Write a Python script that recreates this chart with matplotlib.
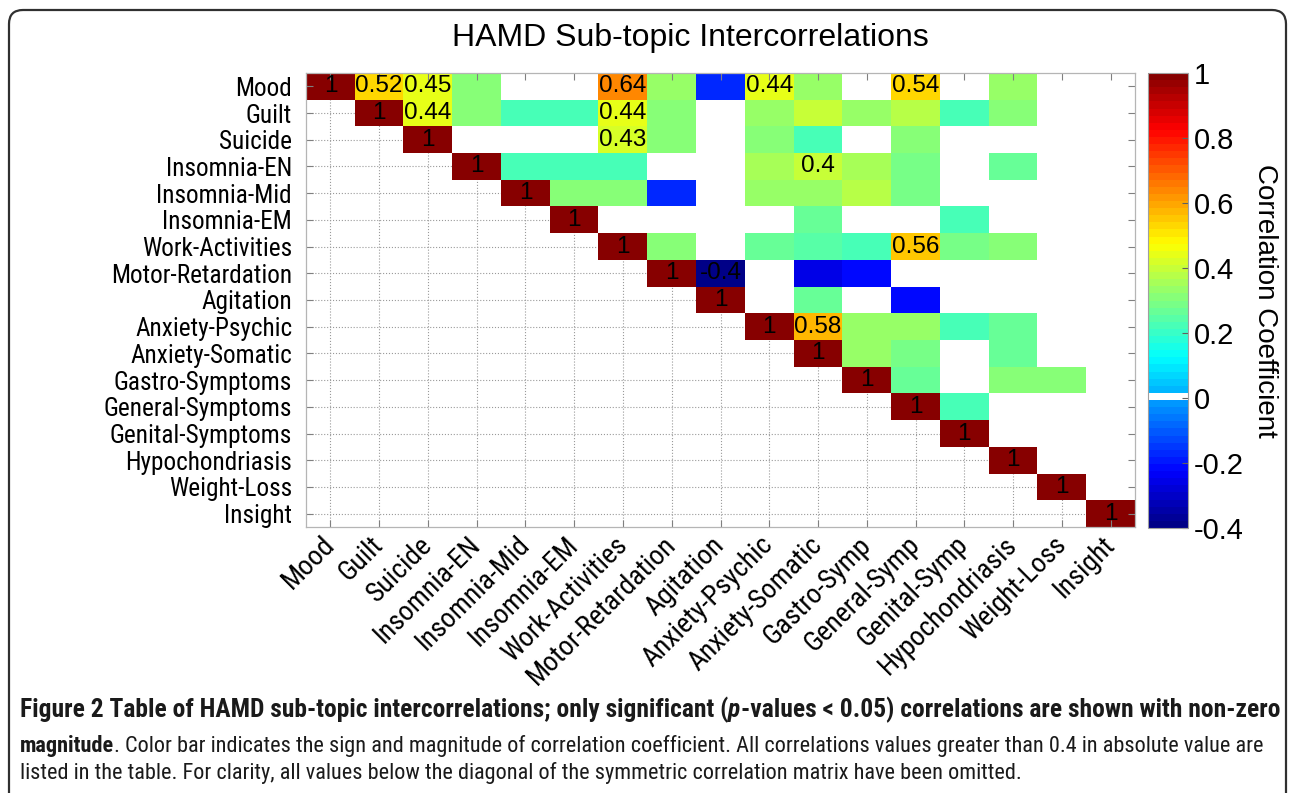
import os
import numpy as np
import matplotlib
matplotlib.use("Agg")
import matplotlib.pyplot as plt
from matplotlib.colors import ListedColormap
from matplotlib.patches import FancyBboxPatch
from matplotlib.transforms import IdentityTransform
from matplotlib import font_manager as fm
from matplotlib.font_manager import FontProperties

# ---------------- data ----------------
row_labels = ["Mood", "Guilt", "Suicide", "Insomnia-EN", "Insomnia-Mid", "Insomnia-EM",
              "Work-Activities", "Motor-Retardation", "Agitation", "Anxiety-Psychic",
              "Anxiety-Somatic", "Gastro-Symptoms", "General-Symptoms", "Genital-Symptoms",
              "Hypochondriasis", "Weight-Loss", "Insight"]
col_labels = ["Mood", "Guilt", "Suicide", "Insomnia-EN", "Insomnia-Mid", "Insomnia-EM",
              "Work-Activities", "Motor-Retardation", "Agitation", "Anxiety-Psychic",
              "Anxiety-Somatic", "Gastro-Symp", "General-Symp", "Genital-Symp",
              "Hypochondriasis", "Weight-Loss", "Insight"]

N = np.nan
r00 = [1, .52, .45, .32, 0, 0, .64, .33, -.17, .44, .33, 0, .54, 0, .33, 0, 0]
r01 = [N, 1, .44, .32, .22, .22, .44, .30, 0, .34, .39, .33, .37, .23, .32, 0, 0]
r02 = [N, N, 1, 0, 0, 0, .43, .30, 0, .31, .23, 0, .31, 0, 0, 0, 0]
r03 = [N, N, N, 1, .22, .22, .22, 0, 0, .35, .40, .36, .28, 0, .27, 0, 0]
r04 = [N, N, N, N, 1, .30, .30, -.17, 0, .34, .33, .37, .28, 0, 0, 0, 0]
r05 = [N, N, N, N, N, 1, 0, 0, 0, 0, .26, 0, 0, .23, 0, 0, 0]
r06 = [N, N, N, N, N, N, 1, .32, 0, .27, .25, .22, .56, .29, .30, 0, 0]
r07 = [N, N, N, N, N, N, N, 1, -.40, 0, -.25, -.21, 0, 0, 0, 0, 0]
r08 = [N, N, N, N, N, N, N, N, 1, 0, .27, 0, -.22, 0, 0, 0, 0]
r09 = [N, N, N, N, N, N, N, N, N, 1, .58, .34, .34, .23, .26, 0, 0]
r10 = [N, N, N, N, N, N, N, N, N, N, 1, .34, .28, 0, .27, 0, 0]
r11 = [N, N, N, N, N, N, N, N, N, N, N, 1, .27, 0, .31, .31, 0]
r12 = [N, N, N, N, N, N, N, N, N, N, N, N, 1, .23, 0, 0, 0]
r13 = [N, N, N, N, N, N, N, N, N, N, N, N, N, 1, 0, 0, 0]
r14 = [N, N, N, N, N, N, N, N, N, N, N, N, N, N, 1, 0, 0]
r15 = [N, N, N, N, N, N, N, N, N, N, N, N, N, N, N, 1, 0]
r16 = [N, N, N, N, N, N, N, N, N, N, N, N, N, N, N, N, 1]
cbar_ticks = [-0.4, -0.2, 0, 0.2, 0.4, 0.6, 0.8, 1]
vmin, vmax = -0.4, 1.0

title = "HAMD Sub-topic Intercorrelations"
cbar_label = "Correlation Coefficient"

M = np.array([r00, r01, r02, r03, r04, r05, r06, r07, r08, r09, r10, r11, r12,
              r13, r14, r15, r16], dtype=float)

# ---------------- fonts ----------------
def has_font(name):
    try:
        fm.findfont(FontProperties(family=name), fallback_to_default=False)
        return True
    except Exception:
        return False

MAIN = "Liberation Sans" if has_font("Liberation Sans") else "DejaVu Sans"
plt.rcParams["font.family"] = [MAIN, "DejaVu Sans"]
plt.rcParams["axes.unicode_minus"] = False

_paths = [f.fname for f in fm.fontManager.ttflist]
def _find(prefix):
    for p in _paths:
        if os.path.basename(p).lower().startswith(prefix.lower()):
            return p
    return None

_families = [
    ("NotoSans-ExtraCondensed.", "NotoSans-ExtraCondensedBold.", "NotoSans-ExtraCondensedBoldItalic."),
    ("LiberationSansNarrow-Regular", "LiberationSansNarrow-Bold.", "LiberationSansNarrow-BoldItalic"),
    ("NotoSans-Condensed.", "NotoSans-CondensedBold.", "NotoSans-CondensedBoldItalic."),
    ("RobotoCondensed-Regular", "RobotoCondensed-Bold.", "RobotoCondensed-BoldItalic"),
    ("DejaVuSansCondensed.", "DejaVuSansCondensed-Bold.", "DejaVuSansCondensed-BoldOblique"),
]
NARROW = None
for reg, bld, bit in _families:
    pr, pb, pbi = _find(reg), _find(bld), _find(bit)
    if pr and pb:
        NARROW = {"normal": pr, "bold": pb, "bolditalic": pbi or pb}
        break

def nfp(kind, size):
    if NARROW is not None:
        return FontProperties(fname=NARROW[kind], size=size)
    w = "bold" if kind.startswith("bold") else "normal"
    s = "italic" if kind.endswith("italic") else "normal"
    return FontProperties(family=[MAIN, "DejaVu Sans"], weight=w, style=s, size=size)

# ---------------- colormap (MATLAB-like jet, 64 levels, white at 0) ----------------
x = (np.arange(64) + 0.5) / 64
r = np.clip(np.minimum(4 * x - 1.5, -4 * x + 4.5), 0, 1)
g = np.clip(np.minimum(4 * x - 0.5, -4 * x + 3.5), 0, 1)
b = np.clip(np.minimum(4 * x + 0.5, -4 * x + 2.5), 0, 1)
cols = np.stack([r, g, b, np.ones(64)], axis=1)
zidx = int(np.floor((0 - vmin) / (vmax - vmin) * 64))
cols[zidx] = [1, 1, 1, 1]
cmap = ListedColormap(cols)
cmap.set_bad((1, 1, 1, 0))

W, H = 1290, 793
fig = plt.figure(figsize=(W / 100, H / 100), dpi=100)
renderer = fig.canvas.get_renderer()

def text_width(s, fp):
    t = fig.text(0, 0, s, fontproperties=fp)
    w = t.get_window_extent(renderer=renderer).width
    t.remove()
    return w

# label font sizes fitted to width of the longest labels
probe = nfp("normal", 20)
lab_size = 20 * 188.0 / text_width("General-Symptoms", probe)
lab_size = float(np.clip(lab_size, 14.5, 21))
lab_fp = nfp("normal", lab_size)
xlab_size = 20 * 198.0 / text_width("Motor-Retardation", probe)
xlab_size = float(np.clip(xlab_size, 14.5, 22))
xlab_fp = nfp("normal", xlab_size)

# outer frame
frame = FancyBboxPatch((9, -40), 1277, 793 - 10 + 40,
                       boxstyle="round,pad=0,rounding_size=14",
                       transform=IdentityTransform(), fill=False,
                       edgecolor="#303030", linewidth=1.6)
fig.patches.append(frame)

ax = fig.add_axes([306 / W, 1 - 527 / H, 829 / W, 454 / H])
n = M.shape[0]
for k in range(n):
    ax.axvline(k, color="#9a9a9a", lw=0.8, ls=":", zorder=0.5)
    ax.axhline(k, color="#9a9a9a", lw=0.8, ls=":", zorder=0.5)

im = ax.imshow(np.ma.masked_invalid(M), cmap=cmap, vmin=vmin, vmax=vmax,
               aspect="auto", interpolation="nearest", zorder=1)
ax.set_xlim(-0.5, n - 0.5)
ax.set_ylim(n - 0.5, -0.5)

for i in range(n):
    for j in range(n):
        v = M[i, j]
        if np.isnan(v):
            continue
        if i == j or abs(v) >= 0.4 - 1e-9:
            s = "%g" % round(v, 2)
            ax.text(j, i, s, ha="center", va="center", fontsize=17.5,
                    color="black", zorder=3)

ax.set_xticks(range(n))
ax.set_yticks(range(n))
ax.set_yticklabels(row_labels, fontproperties=lab_fp)
ax.set_xticklabels(col_labels, fontproperties=xlab_fp, rotation=45, ha="right",
                   va="center", rotation_mode="anchor")
ax.tick_params(axis="both", direction="in", length=5, color="#808080",
               top=True, right=True, width=0.8)
ax.tick_params(axis="y", pad=10)
ax.tick_params(axis="x", pad=10)
for sp in ax.spines.values():
    sp.set_color("#b5b5b5")
    sp.set_linewidth(0.9)

# colorbar
cax = fig.add_axes([1148 / W, 1 - 528 / H, 40 / W, 455 / H])
cb = fig.colorbar(im, cax=cax, ticks=cbar_ticks)
cb.ax.set_yticklabels(["%g" % t for t in cbar_ticks], fontsize=21)
cb.ax.tick_params(direction="in", length=4, color="#606060", pad=4)
cb.outline.set_edgecolor("#a0a0a0")
cb.outline.set_linewidth(0.8)
cb.set_label(cbar_label, rotation=270, fontsize=20, va="center")
cb.ax.yaxis.set_label_coords((1265 - 1148) / 40, 0.5)

fig.text(690 / W, 1 - 38 / H, title, ha="center", va="center", fontsize=23)

# ---------------- caption ----------------
def draw_line(pieces, x0, ybase, fs):
    xs = x0
    arts = []
    for txt, kind in pieces:
        t = fig.text(xs / W, 1 - ybase / H, txt, ha="left", va="baseline",
                     fontproperties=nfp(kind, fs), color="#1a1a1a")
        bb = t.get_window_extent(renderer=renderer)
        xs += bb.width
        arts.append(t)
    return arts, xs - x0

def fit_line(pieces, x0, x1, ybase, fs):
    arts, w = draw_line(pieces, x0, ybase, fs)
    for a in arts:
        a.remove()
    fs2 = fs * (x1 - x0) / w
    draw_line(pieces, x0, ybase, fs2)
    return fs2

line1 = [("Figure 2 Table of HAMD sub-topic intercorrelations; only significant (", "bold"),
         ("p", "bolditalic"),
         ("-values < 0.05) correlations are shown with non-zero", "bold")]
line2 = [("magnitude", "bold"),
         (". Color bar indicates the sign and magnitude of correlation coefficient. "
          "All correlations values greater than 0.4 in absolute value are", "normal")]
line3 = [("listed in the table. For clarity, all values below the diagonal of the "
          "symmetric correlation matrix have been omitted.", "normal")]

fit_line(line1, 20, 1275, 717, 13)
fs2 = fit_line(line2, 20, 1262, 752, 12)
draw_line(line3, 20, 779, fs2)

fig.savefig("out.png", dpi=100)
